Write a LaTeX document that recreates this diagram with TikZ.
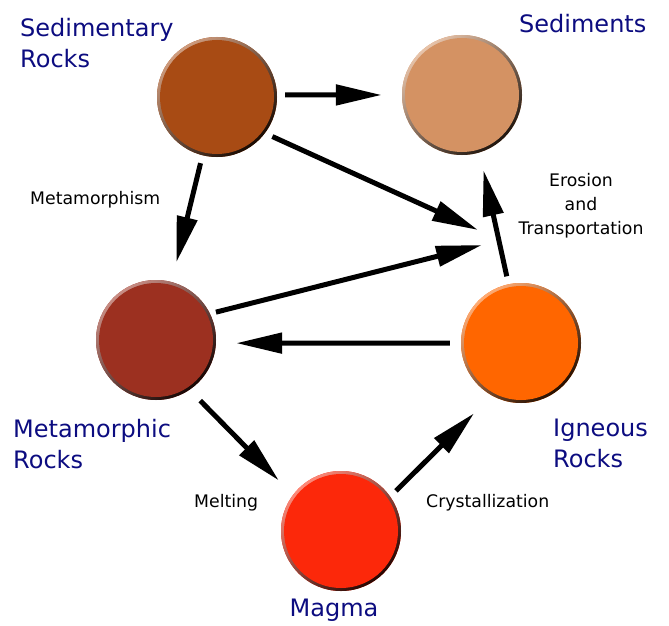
\documentclass[tikz,border=0pt]{standalone}
\usepackage{fontspec}
\setmainfont{DejaVu Sans}
\usetikzlibrary{arrows.meta}
\definecolor{sedrock}{RGB}{168,75,20}
\definecolor{sedim}{RGB}{212,146,99}
\definecolor{metarock}{RGB}{156,48,32}
\definecolor{ignrock}{RGB}{255,102,0}
\definecolor{magmac}{RGB}{252,40,10}
\definecolor{navy}{RGB}{12,12,128}
\tikzset{
  rock/.style={circle, minimum size=120pt, inner sep=0pt, fill=#1,
    path picture={
      \shade[top color=white!45!#1, middle color=#1, bottom color=black!85!#1, shading angle=40]
        (path picture bounding box.center) circle (60pt);
      \fill[#1, shift={(-1.8pt,1.8pt)}] (path picture bounding box.center) circle (57pt);
    }},
  bigl/.style={text=navy, inner sep=0pt, font=\fontsize{24}{31}\selectfont, align=left},
  smalll/.style={text=black, inner sep=0pt, font=\fontsize{17.3}{24}\selectfont},
  arr/.style={line width=5pt, -{Triangle[length=46pt,width=20pt]}}
}
\begin{document}
\begin{tikzpicture}[x=1pt,y=-1pt]
\useasboundingbox (0,0) rectangle (669,626);
% rocks
\node[rock=sedrock] (sr) at (217,97) {};
\node[rock=sedim] (sd) at (462,95) {};
\node[rock=metarock] (mr) at (156,340) {};
\node[rock=ignrock] (ig) at (521,343) {};
\node[rock=magmac] (mg) at (341,531) {};
% free arrow ends
\coordinate (j1) at (478,230);
\coordinate (j2) at (482,245);
% labels
\node[bigl, anchor=north west] (lsr) at (20,17.8) {Sedimentary\\Rocks};
\node[bigl, anchor=base west] (lsd) at (519,33) {Sediments};
\node[bigl, anchor=north west] (lmr) at (13,418.8) {Metamorphic\\Rocks};
\node[bigl, anchor=north west] (lig) at (553,418.5) {Igneous\\Rocks};
\node[bigl, anchor=base] (lmg) at (334,616) {Magma};
\node[smalll, anchor=base west] (lmeta) at (30,204) {Metamorphism};
\node[smalll, anchor=base west] (lmelt) at (194,507) {Melting};
\node[smalll, anchor=base west] (lcry) at (426,507) {Crystallization};
\node[smalll, anchor=north, align=center] (lero) at (581,173) {Erosion\\and\\Transportation};
% arrows
\draw[arr, shorten <=8pt, shorten >=20pt] (sr.2) -- (sd.180);
\draw[arr, shorten <=8pt] (sr.-37) -- (j1);
\draw[arr, shorten <=8pt, shorten >=20pt] (sr.-104) -- (mr.75);
\draw[arr, shorten <=6pt] (mr.26) -- (j2);
\draw[arr, shorten <=8pt, shorten >=18pt] (ig.102) -- (sd.-73);
\draw[arr, shorten <=11pt, shorten >=20pt] (ig.180) -- (mr.-3);
\draw[arr, shorten <=15pt, shorten >=20pt] (mr.-56) -- (mg.143);
\draw[arr, shorten <=8pt, shorten >=25pt] (mg.35) -- (ig.-119);
\end{tikzpicture}
\end{document}
